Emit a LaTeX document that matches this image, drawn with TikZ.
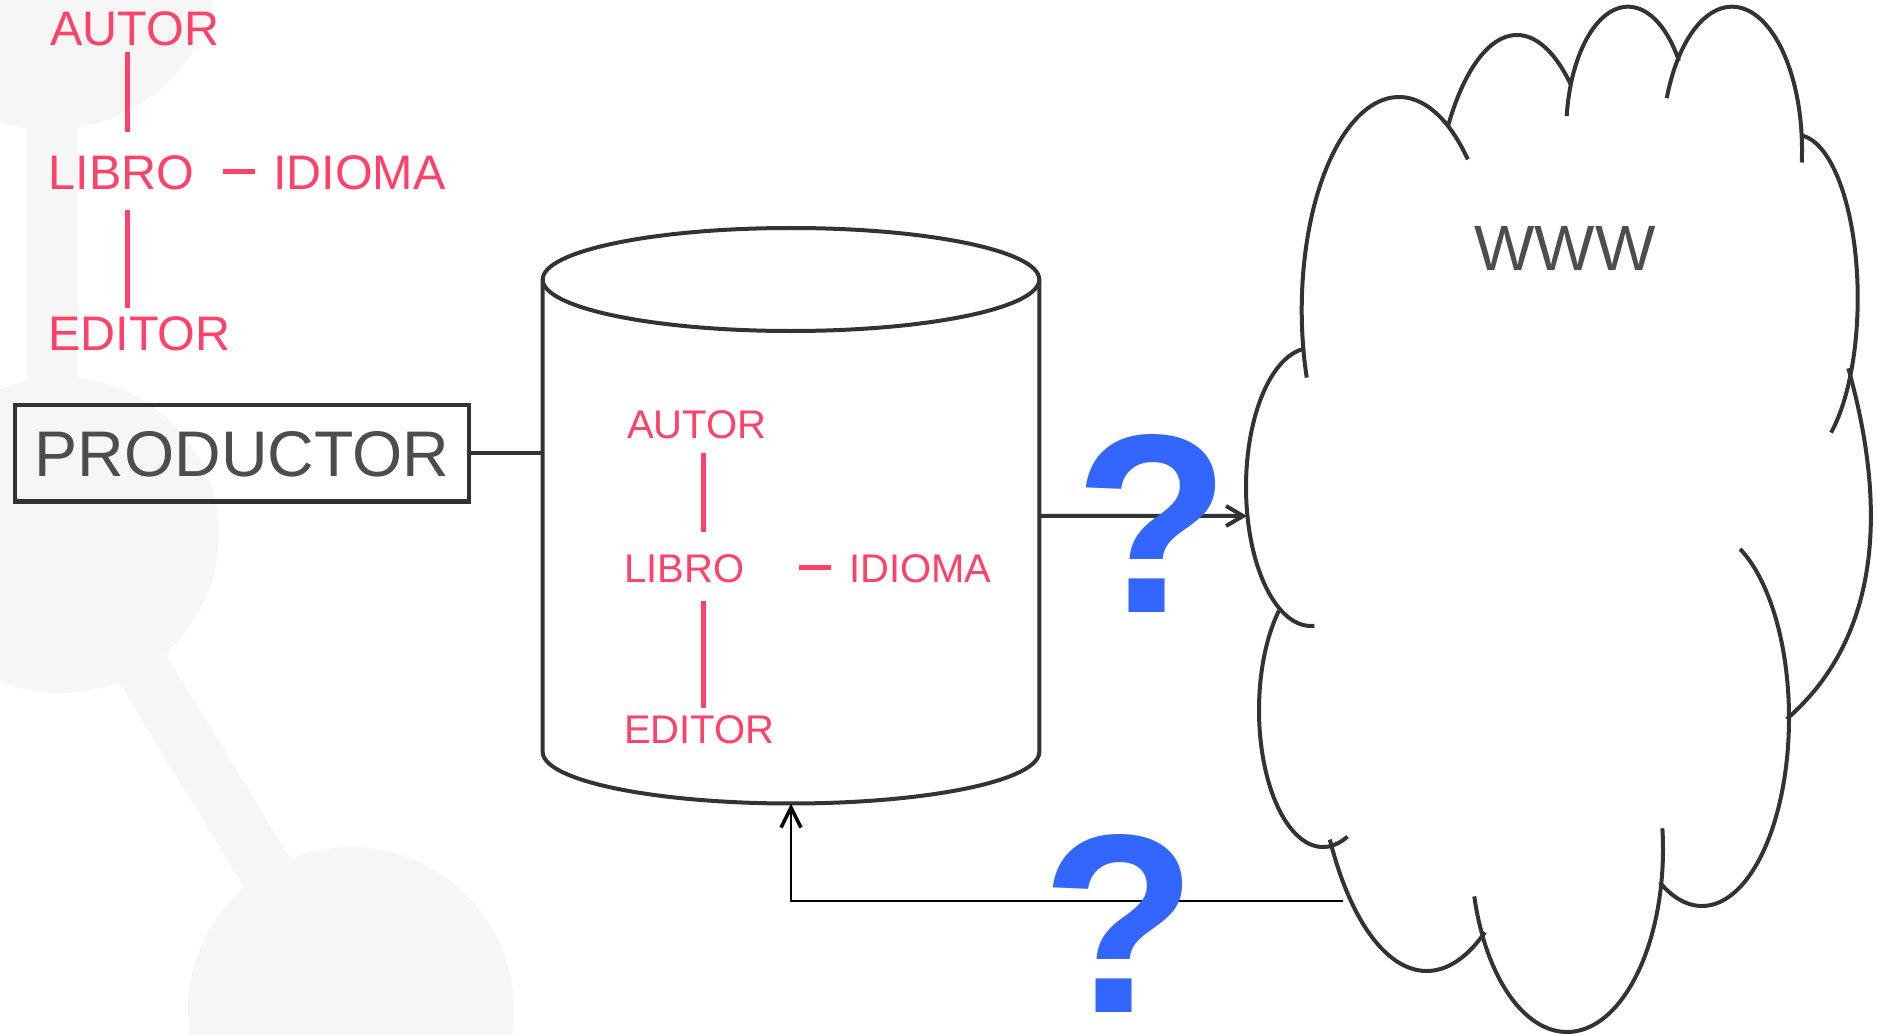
\documentclass[tikz,border=0pt]{standalone}
\usepackage{fontspec}
\setmainfont{Liberation Sans}
\usetikzlibrary{arrows.meta}
\definecolor{pinkc}{RGB}{255,66,106}
\definecolor{dark}{RGB}{51,51,51}
\definecolor{txt}{RGB}{77,77,77}
\definecolor{qblue}{RGB}{51,102,255}
\definecolor{bggray}{RGB}{246,246,246}
\begin{document}
\begin{tikzpicture}[x=1pt,y=-1pt,
  lbl/.style={inner sep=0pt, anchor=base west, text=pinkc, font=\fontsize{48.5}{50}\selectfont},
  lblin/.style={lbl, font=\fontsize{40}{42}\selectfont},
  pinkline/.style={draw=pinkc, line width=5pt},
  cloudline/.style={draw=dark, line width=4pt},
  qmark/.style={inner sep=0pt, anchor=base west, text=qblue, font=\fontsize{255}{255}\bfseries\selectfont},
  darkline/.style={draw=dark, line width=4pt},
]
\useasboundingbox (0,0) rectangle (1877,1035);
% faint background molecule
\fill[bggray] (51,-37) circle[radius=167];
\fill[bggray] (27,100) rectangle (78,400);
\fill[bggray] (61,535) circle[radius=158];
\draw[bggray, line width=55pt] (61,535) -- (351,1010);
\fill[bggray] (351,1010) circle[radius=163];

% top-left schema
\node[lbl] (a1) at (50,46) {AUTOR};
\node[lbl] (l1) at (48.5,190) {LIBRO};
\node[lbl] (i1) at (273,190) {IDIOMA};
\node[lbl] (e1) at (48,350) {EDITOR};
\coordinate (p1a) at (127,52);  \coordinate (p1b) at (127,132);
\coordinate (p2a) at (127,210); \coordinate (p2b) at (127,308);
\coordinate (p3a) at (223,172); \coordinate (p3b) at (255,172);
\draw[pinkline] (p1a) -- (p1b);
\draw[pinkline] (p2a) -- (p2b);
\draw[pinkline] (p3a) -- (p3b);

% PRODUCTOR
\node[draw=dark, line width=4.5pt, minimum width=454pt, minimum height=96.5pt,
      inner sep=0pt, text=txt, font=\fontsize{64.5}{64}\selectfont,
      text height=46pt, text depth=0pt] (prod) at (242,453) {PRODUCTOR};

% cylinder
\node[inner sep=0pt, minimum width=496.6pt, minimum height=575.5pt] (cyl) at (791,515.75) {};
\draw[darkline] (791,279.5) ellipse [x radius=248.3, y radius=51.5];
\draw[darkline] (542.7,279.5) -- (542.7,752)
  -- plot[domain=180:360, samples=90] ({791+248.3*cos(\x)},{752-51.5*sin(\x)})
  -- (1039.3,279.5);

\node[lblin] (a2) at (627,438) {AUTOR};
\node[lblin] (l2) at (624,582) {LIBRO};
\node[lblin] (i2) at (849,582) {IDIOMA};
\node[lblin] (e2) at (624,743) {EDITOR};
\coordinate (q1a) at (703,453); \coordinate (q1b) at (703,532);
\coordinate (q2a) at (703,601); \coordinate (q2b) at (703,708);
\coordinate (q3a) at (799,567); \coordinate (q3b) at (831,567);
\draw[pinkline] (q1a) -- (q1b);
\draw[pinkline] (q2a) -- (q2b);
\draw[pinkline] (q3a) -- (q3b);

\draw[darkline] (prod.east) -- (prod.east -| cyl.west);

% cloud lobes
\draw[cloudline] plot[domain=45:198.5, samples=90] ({1399+97.3*cos(\x)},{310-213*sin(\x)});
\draw[cloudline] plot[domain=51:143.5, samples=70] ({1517+85.8*cos(\x)},{259.5-224.5*sin(\x)});
\draw[cloudline] plot[domain=34.5:172.8, samples=70] ({1628+61.8*cos(\x)},{131.8-125.1*sin(\x)});
\draw[cloudline] plot[domain=-5:158.8, samples=80] ({1732+70*cos(\x)},{150-143.3*sin(\x)});
\draw[cloudline] plot[domain=-55.7:86, samples=80] ({1796.7+61*cos(\x)},{298-163*sin(\x)});
\draw[cloudline] (1848.3,368.3) .. controls (1892.4,525.6) and (1871.9,645.3) .. (1786.7,719);
\draw[cloudline] plot[domain=-119:64, samples=100] ({1702+87*cos(\x)},{718-188*sin(\x)});
\draw[cloudline] plot[domain=-165:6.5, samples=100] ({1567+96*cos(\x)},{849-183*sin(\x)});
\draw[cloudline] plot[domain=-149:-59, samples=60] ({1426.7+113*cos(\x)},{700-271*sin(\x)});
\draw[cloudline] plot[domain=133.5:292.5, samples=90] ({1323+64*cos(\x)},{710-137*sin(\x)});
\draw[cloudline] plot[domain=98:273, samples=90] ({1311+65*cos(\x)},{487-139*sin(\x)});
\node[inner sep=0pt, anchor=base west, text=txt, font=\fontsize{64}{64}\selectfont] (www) at (1474,270) {WWW};

% connectors
\coordinate (cloudL) at (1247,516);
\coordinate (cloudB) at (1343,901);
\draw[darkline, -{Straight Barb[length=17pt, width=20pt]}] (cyl.east) -- (cloudL);
\draw[black, line width=2.5pt, -{Straight Barb[length=20pt, width=20pt, line width=3.5pt]}] (cloudB) -| (cyl.south);

% question marks
\node[qmark] (qm1) at (1074,612) {?};
\node[qmark] (qm2) at (1041,1012) {?};
\end{tikzpicture}
\end{document}
